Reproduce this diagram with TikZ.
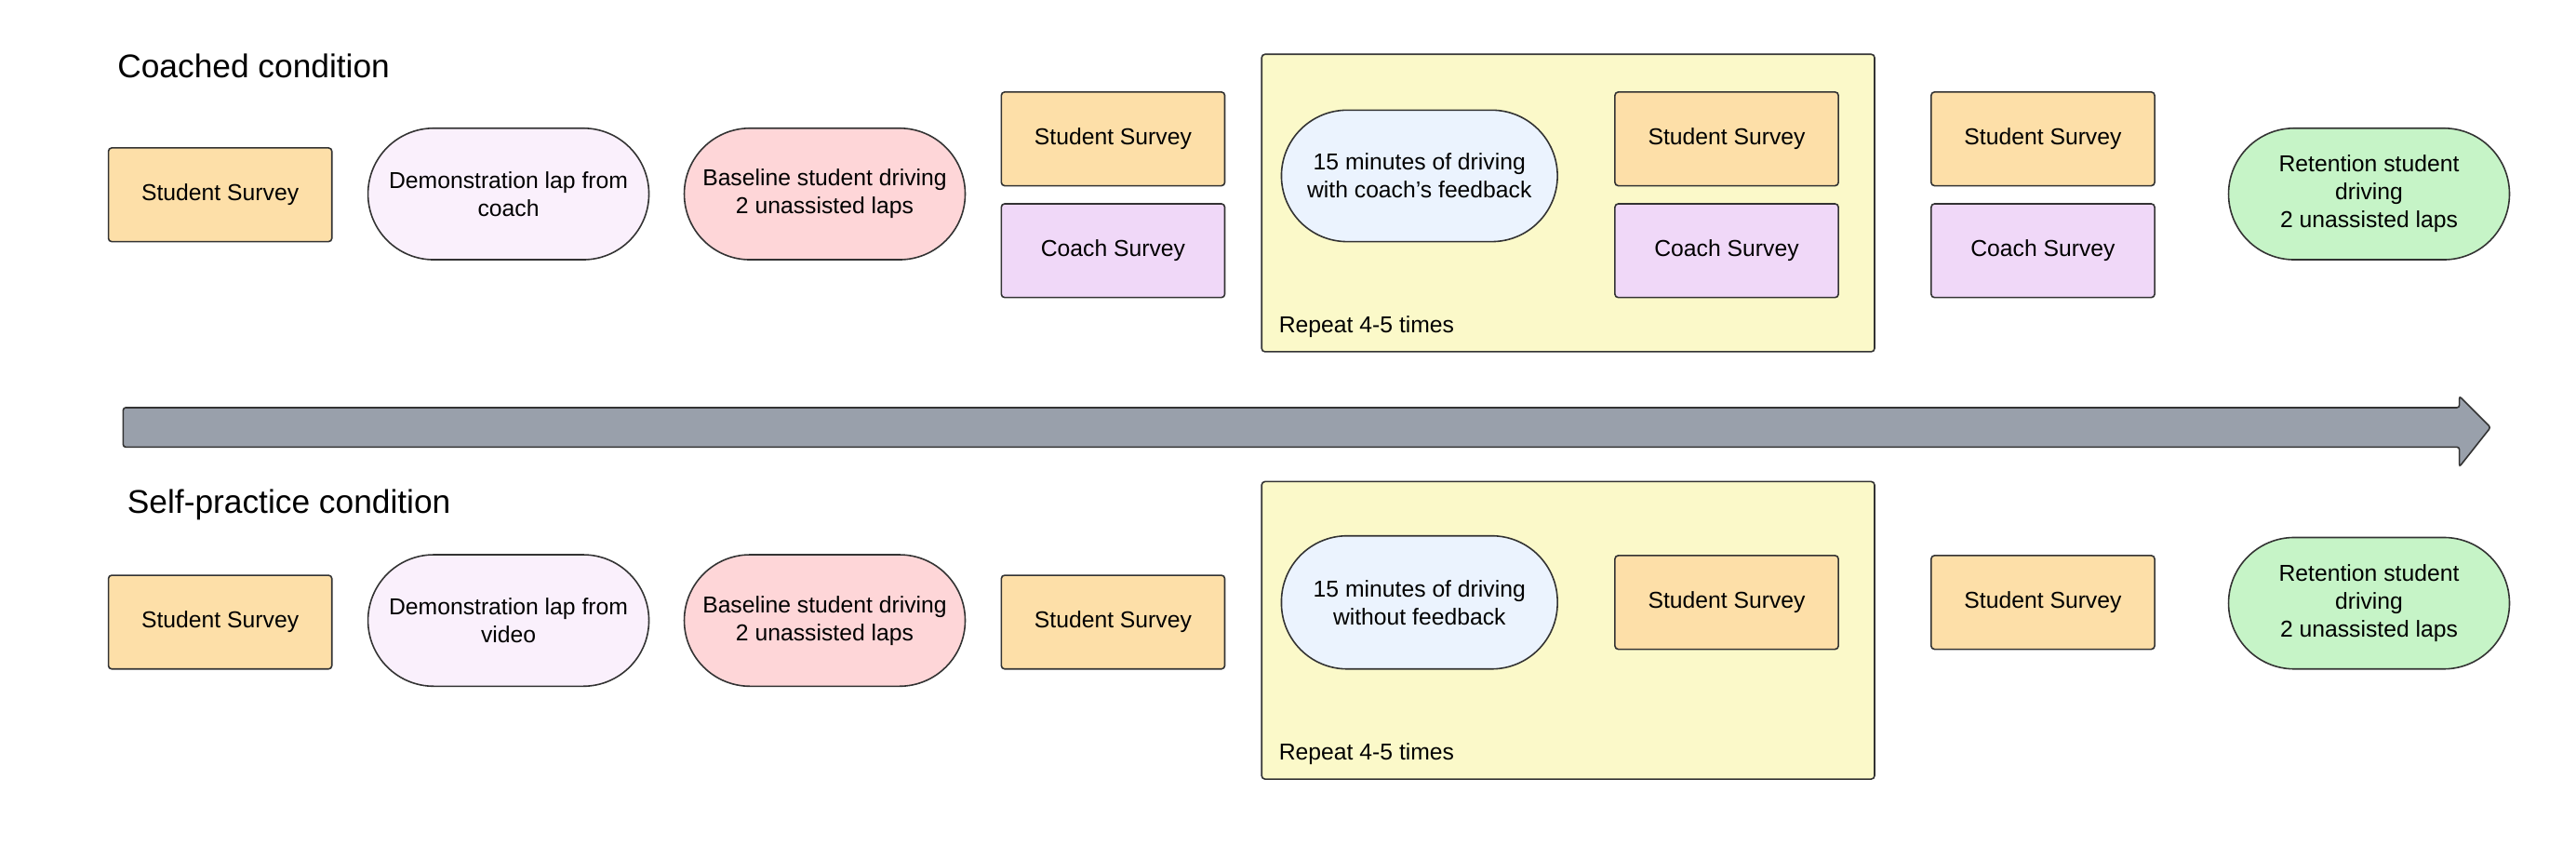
\documentclass[tikz,border=0pt]{standalone}
\usepackage{fontspec}
\setmainfont{Liberation Sans}
\usetikzlibrary{shapes.arrows}
\definecolor{ss}{HTML}{FDDFA8}
\definecolor{cs}{HTML}{F0D8F8}
\definecolor{demo}{HTML}{FAF0FC}
\definecolor{base}{HTML}{FED6D8}
\definecolor{rep}{HTML}{FBF9C9}
\definecolor{fif}{HTML}{EBF3FE}
\definecolor{ret}{HTML}{C6F4C7}
\definecolor{arr}{HTML}{99A0AB}
\definecolor{ln}{HTML}{333333}
\tikzset{
 bx/.style={draw=ln,line width=0.9pt,rounded corners=2pt,align=center,font=\fontsize{14}{17}\selectfont,inner sep=0pt},
 sbox/.style={bx,fill=ss,minimum width=136pt,minimum height=57pt},
 cbox/.style={bx,fill=cs,minimum width=136pt,minimum height=57pt},
 pill/.style={bx,rounded corners=40pt,minimum width=171pt,minimum height=80pt},
 repbox/.style={draw=ln,line width=0.9pt,rounded corners=2pt,fill=rep},
 ttl/.style={anchor=west,font=\fontsize{20}{24}\selectfont},
 rtxt/.style={anchor=west,font=\fontsize{14}{17}\selectfont}
}
\begin{document}
\begin{tikzpicture}[x=1pt,y=-1pt]
\useasboundingbox (0,0) rectangle (1568,523);
% top
\node[ttl] (t1) at (68,40) {Coached condition};
\draw[repbox] (768,33) rectangle (1141,214);
\node[sbox] (a1) at (134,118.5) {Student Survey};
\node[pill,fill=demo] (a2) at (309.5,118) {Demonstration lap from\\coach};
\node[pill,fill=base] (a3) at (502,118) {Baseline student driving\\2 unassisted laps};
\node[sbox] (a4) at (677.5,84.5) {Student Survey};
\node[cbox] (a5) at (677.5,152.5) {Coach Survey};
\node[pill,fill=fif,minimum width=168pt] (a6) at (864,107) {15 minutes of driving\\with coach's feedback};
\node[sbox] (a7) at (1051,84.5) {Student Survey};
\node[cbox] (a8) at (1051,152.5) {Coach Survey};
\node[rtxt] (r1) at (775,199) {Repeat 4-5 times};
\node[sbox] (a9) at (1243.5,84.5) {Student Survey};
\node[cbox] (a10) at (1243.5,152.5) {Coach Survey};
\node[pill,fill=ret] (a11) at (1442,118) {Retention student\\driving\\2 unassisted laps};
% arrow
\draw[draw=ln,line width=0.9pt,fill=arr,rounded corners=1.5pt] (75,248) -- (1497,248) -- (1497,241) -- (1516,260) -- (1497,284) -- (1497,272) -- (75,272) -- cycle;
% bottom
\node[ttl] (t2) at (74,307) {Self-practice condition};
\draw[repbox] (768,293) rectangle (1141,474);
\node[sbox] (b1) at (134,378.5) {Student Survey};
\node[pill,fill=demo] (b2) at (309.5,377.5) {Demonstration lap from\\video};
\node[pill,fill=base] (b3) at (502,377.5) {Baseline student driving\\2 unassisted laps};
\node[sbox] (b4) at (677.5,378.5) {Student Survey};
\node[pill,fill=fif,minimum width=168pt,minimum height=81pt] (b6) at (864,366.5) {15 minutes of driving\\without feedback};
\node[sbox] (b7) at (1051,366.5) {Student Survey};
\node[rtxt] (r2) at (775,459) {Repeat 4-5 times};
\node[sbox] (b9) at (1243.5,366.5) {Student Survey};
\node[pill,fill=ret] (b11) at (1442,367) {Retention student\\driving\\2 unassisted laps};
\end{tikzpicture}
\end{document}
